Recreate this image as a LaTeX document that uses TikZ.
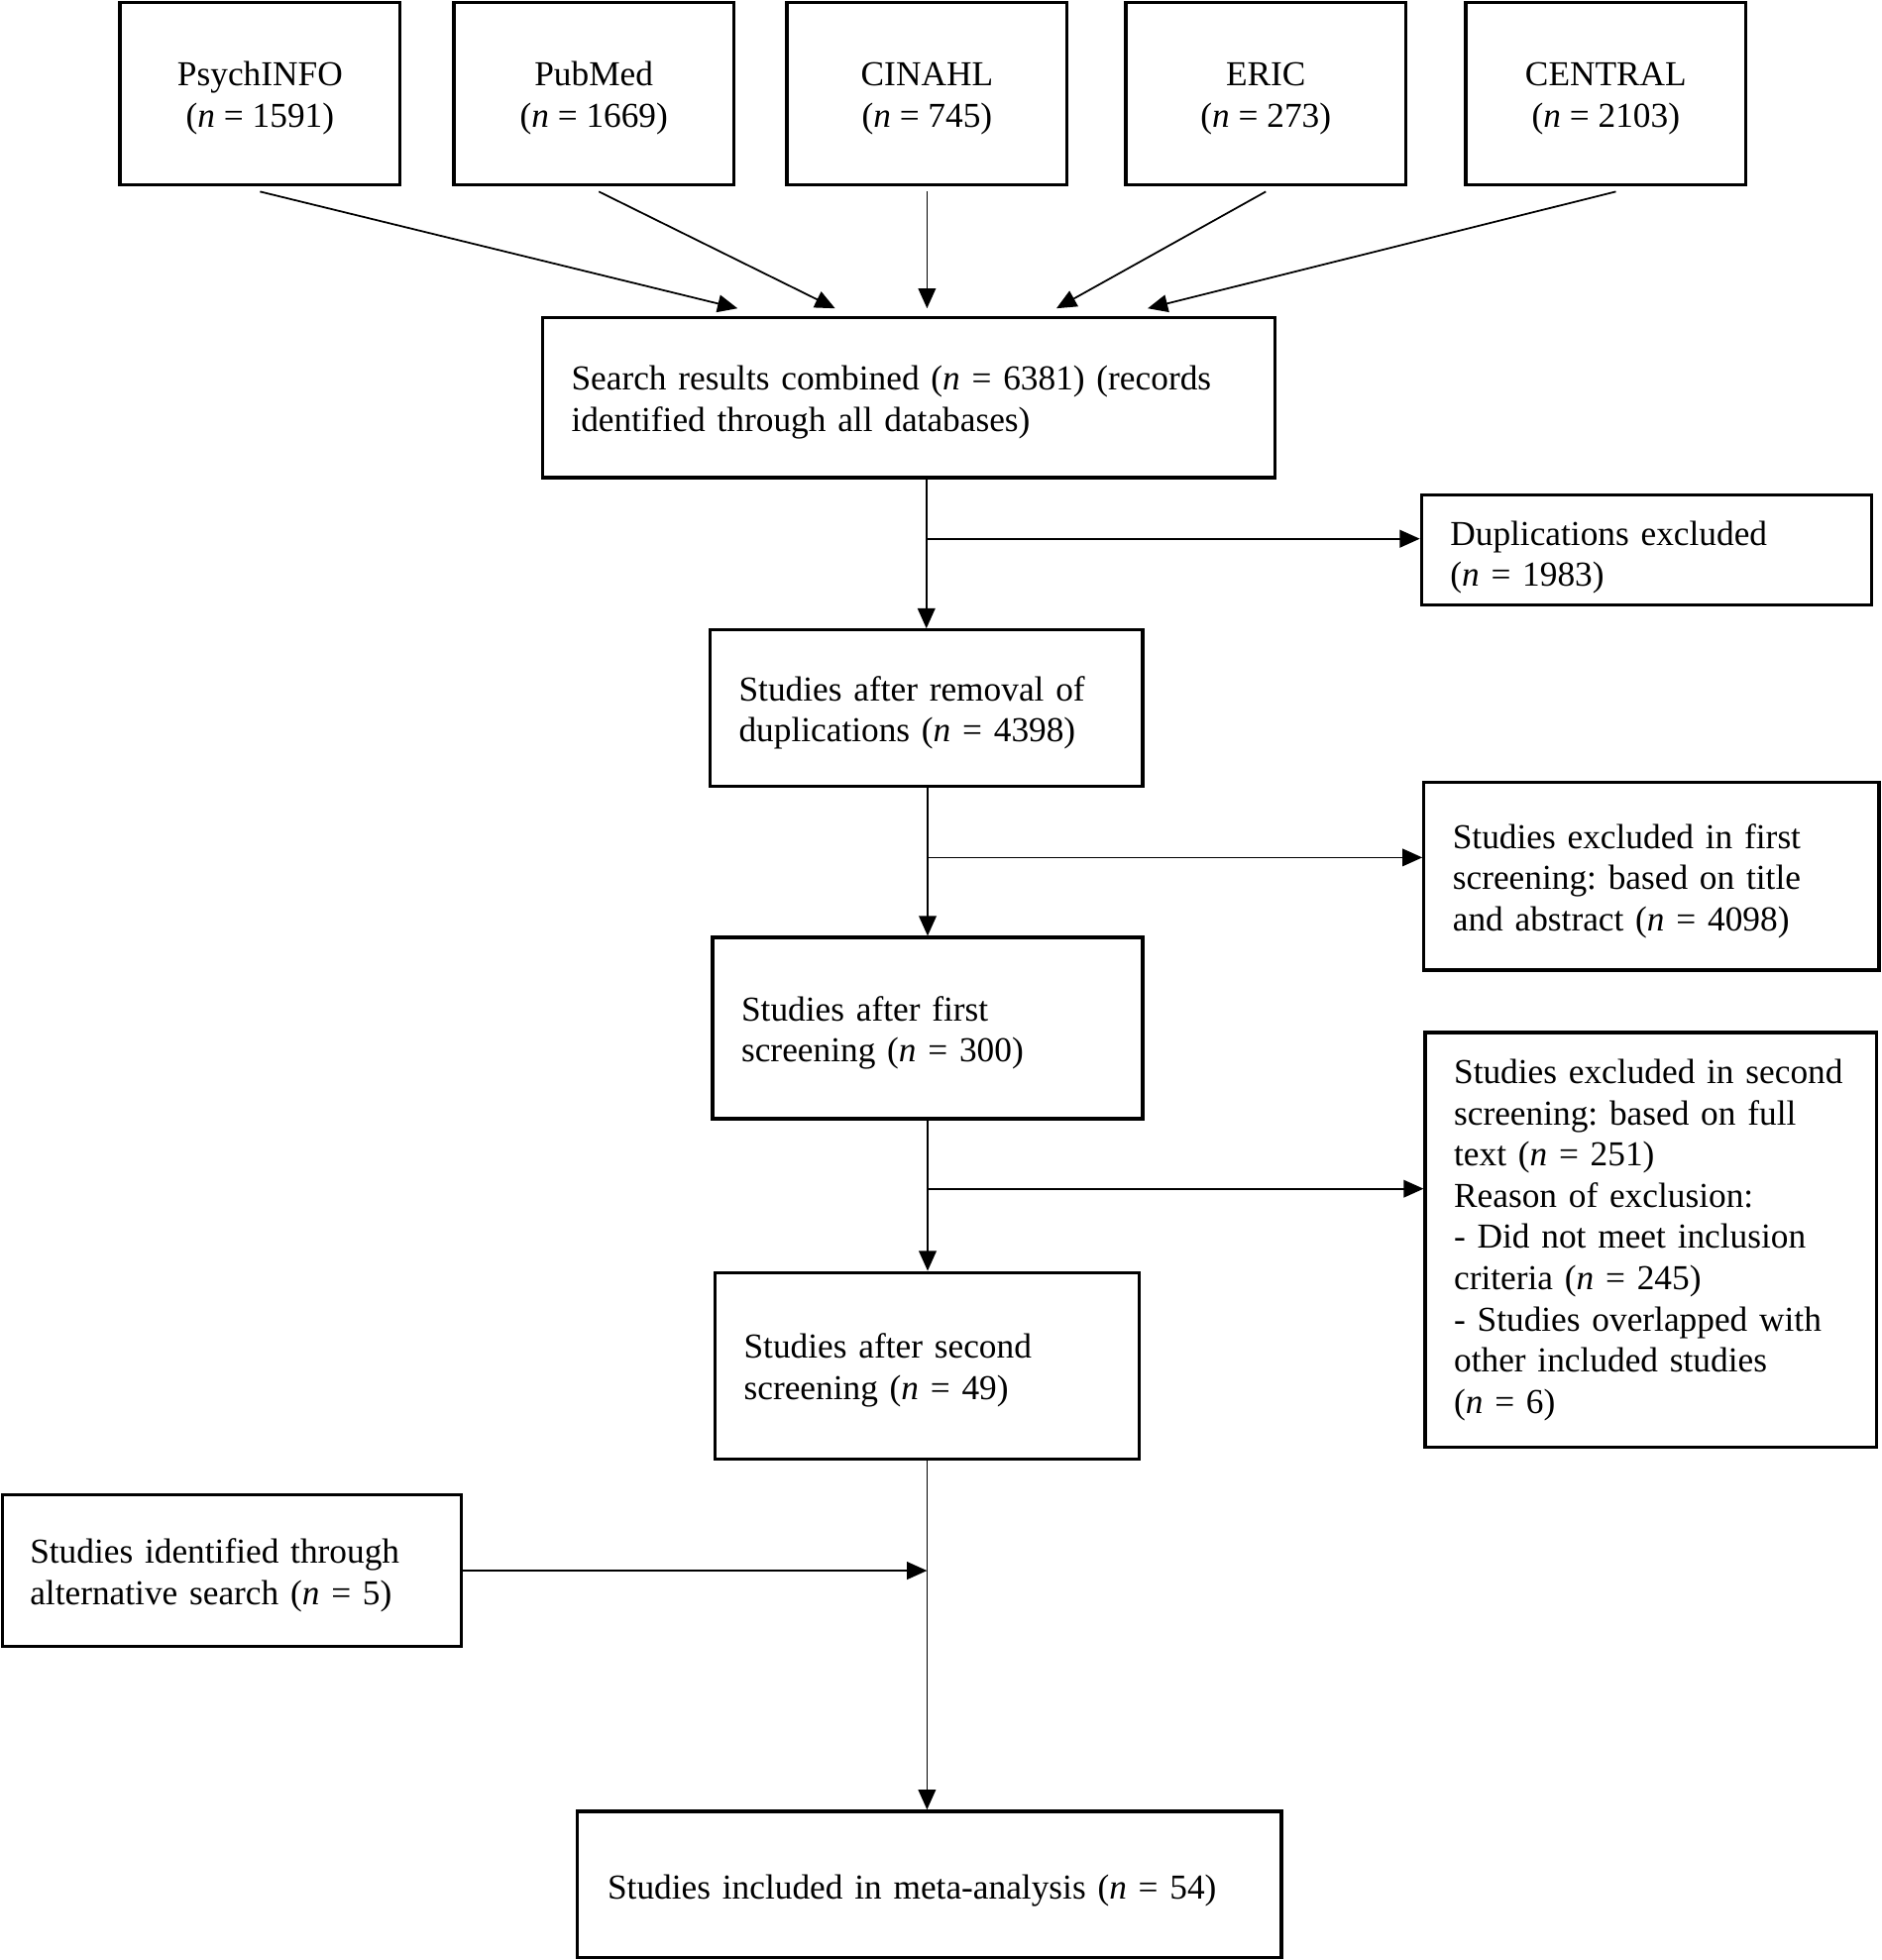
\documentclass[tikz,border=0pt]{standalone}
\usepackage{fontspec}
\setmainfont{Liberation Serif}
\usetikzlibrary{arrows.meta}
\frenchspacing
\begin{document}
\begin{tikzpicture}[x=0.5pt,y=-0.5pt,
  box/.style={draw, line width=1.3pt, inner xsep=11.5pt, inner ysep=2pt, font=\fontsize{14}{16.5}\selectfont},
  lbox/.style={box, align=left},
  cbox/.style={box, align=center, minimum width=112pt, minimum height=73pt, inner xsep=2pt, text height=29.6pt},
  arr/.style={line width=0.7pt, -{Triangle[length=8pt,width=7pt]}}]
\useasboundingbox (0,0) rectangle (1505,1568);
% top boxes
\node[cbox] (psych) at (208,75) {PsychINFO\\(\textit{n} = 1591)};
\node[cbox] (pub) at (475,75) {PubMed\\(\textit{n} = 1669)};
\node[cbox] (cin) at (741.5,75) {CINAHL\\(\textit{n} = 745)};
\node[cbox] (eric) at (1012.5,75) {ERIC\\(\textit{n} = 273)};
\node[cbox] (cent) at (1284.5,75) {CENTRAL\\(\textit{n} = 2103)};
% main boxes
\node[lbox, text width=270pt, minimum height=64pt, text height=13.6pt] (search) at (727,318) {Search results combined (\textit{n} = 6381) (records\\identified through all databases)};
\node[lbox, text width=157pt, minimum height=44pt, text height=15.6pt] (dup) at (1317,440) {Duplications excluded\\(\textit{n} = 1983)};
\node[lbox, text width=150pt, minimum height=62.5pt, text height=13.6pt] (rem) at (741,566.5) {Studies after removal of\\duplications (\textit{n} = 4398)};
\node[lbox, text width=159pt, minimum height=75pt, text height=13.6pt] (ex1) at (1321,701) {Studies excluded in first\\screening: based on title\\and abstract (\textit{n} = 4098)};
\node[lbox, text width=149pt, minimum height=72.5pt, text height=13.6pt] (first) at (742,822.5) {Studies after first\\screening (\textit{n} = 300)};
\node[lbox, text width=157.5pt, minimum height=166pt] (ex2) at (1320.5,992) {Studies excluded in second\\screening: based on full\\text (\textit{n} = 251)\\Reason of exclusion:\\- Did not meet inclusion\\criteria (\textit{n} = 245)\\- Studies overlapped with\\other included studies\\(\textit{n} = 6)};
\node[lbox, text width=146.5pt, minimum height=74.5pt, text height=13.6pt] (second) at (741.5,1092.5) {Studies after second\\screening (\textit{n} = 49)};
\node[lbox, text width=161.5pt, inner xsep=11pt, minimum height=60.5pt, text height=13.6pt] (alt) at (185.5,1256.5) {Studies identified through\\alternative search (\textit{n} = 5)};
\node[lbox, text width=257.5pt, inner xsep=12pt, minimum height=58.5pt, text height=14.6pt] (incl) at (743.5,1507.5) {Studies included in meta-analysis (\textit{n} = 54)};
% top arrows
\path ([yshift=3pt]search.north) coordinate (stop);
\draw[arr] ([yshift=-2pt]psych.south) -- ([xshift=-68.5pt,yshift=3pt]search.north);
\draw[arr] ([xshift=2pt,yshift=-2pt]pub.south) -- ([xshift=-29.5pt,yshift=3pt]search.north);
\draw[arr] ([yshift=-2pt]cin.south) -- (stop -| cin.south);
\draw[arr] ([yshift=-2pt]eric.south) -- ([xshift=59pt,yshift=3pt]search.north);
\draw[arr] ([xshift=4pt,yshift=-2pt]cent.south) -- ([xshift=95.5pt,yshift=3pt]search.north);
% spine
\draw[arr] (search.south -| rem.north) -- (rem.north);
\coordinate (b1) at (741,431);
\draw[arr] (b1) -- (b1 -| dup.west);
\draw[arr] (rem.south -| first.north) -- (first.north);
\coordinate (b2) at (742,686);
\draw[arr] (b2) -- (b2 -| ex1.west);
\draw[arr] (first.south) -- (first.south |- second.north);
\coordinate (b3) at (742,951);
\draw[arr] (b3) -- (b3 -| ex2.west);
\draw[arr] (second.south) -- (second.south |- incl.north);
\draw[arr] (alt.east) -- (alt.east -| second.south);
\end{tikzpicture}
\end{document}
